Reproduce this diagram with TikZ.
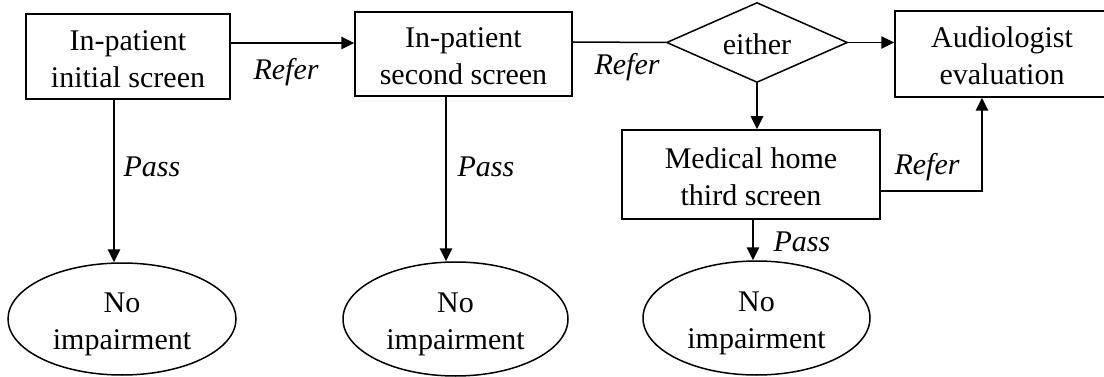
\documentclass[tikz,border=0pt]{standalone}
\usepackage{fontspec}
\setmainfont{Liberation Serif}
\usetikzlibrary{shapes.geometric,arrows.meta}
\newcommand\twoline[2]{\raisebox{-5pt}[\height][\depth]{\begin{tabular}{@{}c@{}}#1\\#2\end{tabular}}}
\tikzset{
  base/.style={draw=black, line width=1.5pt, inner sep=0pt, align=center, font=\fontsize{30}{37}\selectfont},
  boxnode/.style={base, rectangle},
  ellnode/.style={base, ellipse},
  dianode/.style={base, diamond, aspect=2.2},
  arr/.style={-{Triangle[length=13pt,width=12.5pt]}, line width=1.5pt},
  plain/.style={line width=1.5pt},
  lbl/.style={inner sep=0pt, font=\fontsize{30}{37}\selectfont\itshape}
}
\begin{document}
\begin{tikzpicture}[x=1pt,y=-1pt]
\useasboundingbox (0,0) rectangle (1104,377);
\clip (0,0) rectangle (1104,377);
\node[boxnode, minimum width=204pt, minimum height=85pt] (b1) at (128,56.5) {\twoline{In-patient}{initial screen}};
\node[boxnode, minimum width=217pt, minimum height=84pt] (b2) at (463.5,54) {\twoline{In-patient}{second screen}};
\node[dianode, minimum width=181pt, minimum height=80pt] (d) at (757,42.5) {\raisebox{-2pt}[\height][\depth]{either}};
\node[boxnode, minimum width=214pt, minimum height=86pt] (aud) at (1002,54) {\twoline{Audiologist}{evaluation}};
\node[boxnode, minimum width=258pt, minimum height=89pt] (med) at (751,174.5) {\twoline{Medical home}{third screen}};
\node[ellnode, minimum width=228pt, minimum height=112pt] (e1) at (122,319) {\twoline{No}{impairment}};
\node[ellnode, minimum width=225pt, minimum height=114pt] (e2) at (455.5,319) {\twoline{No}{impairment}};
\node[ellnode, minimum width=227pt, minimum height=114pt] (e3) at (756.5,318) {\twoline{No}{impairment}};

\draw[arr] ([yshift=13.5pt]b1.east) -- ([yshift=11pt]b2.west);
\draw[plain] ([yshift=12pt]b2.east) -- (d.west);
\draw[arr] (d.east) -- (d.east -| aud.west);
\draw[arr] (d.south) -- (d.south |- med.north);
\draw[arr] ([yshift=-16.5pt]med.east) -| ([xshift=-20pt]aud.south);
\draw[arr] ([xshift=-14pt]b1.south) -- ([xshift=-14pt]b1.south |- e1.north);
\draw[arr] ([xshift=-17.5pt]b2.south) -- ([xshift=-17.5pt]b2.south |- e2.north);
\draw[arr] ([xshift=2pt]med.south) -- ([xshift=2pt]med.south |- e3.north);

\node[lbl] (r1) at (286,72) {Refer};
\node[lbl] (r2) at (627,67) {Refer};
\node[lbl] (r3) at (927,167) {Refer};
\node[lbl] (p1) at (152,167) {Pass};
\node[lbl] (p2) at (486,167) {Pass};
\node[lbl] (p3) at (802,242) {Pass};
\end{tikzpicture}
\end{document}
